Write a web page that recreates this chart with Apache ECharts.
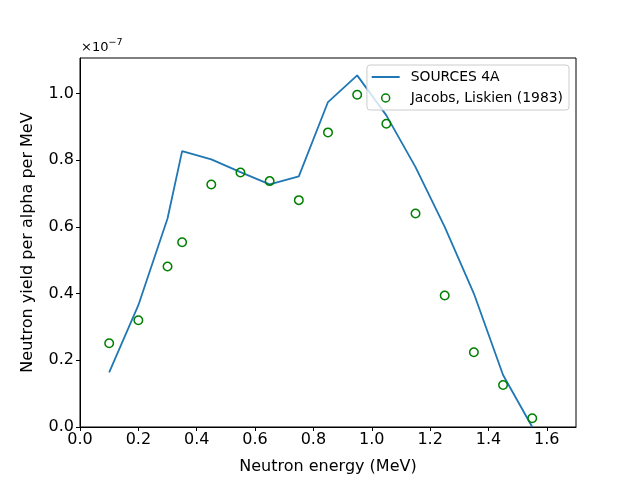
<!DOCTYPE html>
<html>
<head>
<meta charset="utf-8">
<script src="https://cdn.jsdelivr.net/npm/echarts@6/dist/echarts.min.js"></script>
<style>html,body{margin:0;padding:0;background:#fff}#c{width:640px;height:480px}</style>
</head>
<body>
<div id="c"></div>
<script>
// energies (MeV)
const energies = [0.1, 0.2, 0.3, 0.35, 0.45, 0.55, 0.65, 0.75, 0.85, 0.95, 1.05, 1.15, 1.25, 1.35, 1.45, 1.55];
// SOURCES 4A (units of 1e-7 n/alpha/MeV)
const sources4a = [0.164, 0.365, 0.625, 0.827, 0.802, 0.764, 0.727, 0.751, 0.974, 1.054, 0.934, 0.779, 0.600, 0.400, 0.156, 0.0];
// Jacobs, Liskien (1983) (units of 1e-7)
const jacobs = [0.251, 0.320, 0.481, 0.554, 0.727, 0.763, 0.737, 0.680, 0.883, 0.996, 0.909, 0.640, 0.394, 0.224, 0.126, 0.026];
const xTicks = [0.0, 0.2, 0.4, 0.6, 0.8, 1.0, 1.2, 1.4, 1.6];
const yTicks = [0.0, 0.2, 0.4, 0.6, 0.8, 1.0];

const font = 'DejaVu Sans';
const chart = echarts.init(document.getElementById('c'), null, {renderer: 'canvas'});
chart.setOption({
  animation: false,
  textStyle: {fontFamily: font},
  grid: {left: 80, right: 64, top: 58, bottom: 53, show: true, borderColor: '#000', borderWidth: 1, backgroundColor: 'transparent'},
  xAxis: {
    type: 'value', min: 0, max: 1.7, interval: 0.2,
    name: 'Neutron energy (MeV)', nameLocation: 'middle', nameGap: 32,
    nameTextStyle: {fontSize: 16, color: '#000', fontFamily: font},
    axisLine: {show: true, onZero: false, lineStyle: {color: '#000', width: 1}},
    axisTick: {show: true, inside: false, length: 4, lineStyle: {color: '#000'}},
    axisLabel: {fontSize: 16, color: '#000', margin: 5, showMaxLabel: false,
      formatter: v => xTicks.some(t => Math.abs(t - v) < 1e-9) ? v.toFixed(1) : ''},
    splitLine: {show: false}
  },
  yAxis: {
    type: 'value', min: 0, max: 1.106, interval: 0.2,
    name: 'Neutron yield per alpha per MeV', nameLocation: 'middle', nameGap: 44,
    nameTextStyle: {fontSize: 16, color: '#000', fontFamily: font},
    axisLine: {show: true, onZero: false, lineStyle: {color: '#000', width: 1}},
    axisTick: {show: true, inside: false, length: 4, lineStyle: {color: '#000'}},
    axisLabel: {fontSize: 16, color: '#000', margin: 6, showMaxLabel: false,
      formatter: v => yTicks.some(t => Math.abs(t - v) < 1e-9) ? v.toFixed(1) : ''},
    splitLine: {show: false}
  },
  legend: {
    orient: 'vertical', right: 71, top: 65,
    padding: [5, 6, 5, 4], itemGap: 7, itemWidth: 34, itemHeight: 8,
    backgroundColor: 'rgba(255,255,255,0.8)', borderColor: '#cccccc', borderWidth: 1, borderRadius: 3,
    textStyle: {fontSize: 13.9, color: '#000', fontFamily: font},
    data: [
      {name: 'SOURCES 4A', icon: 'path://M0,3H28V5H0Z M0,0L0,0 M34,8L34,8', itemStyle: {color: '#1f77b4'}},
      {name: 'Jacobs, Liskien (1983)', icon: 'path://M10,4A4,4 0 1,1 18,4A4,4 0 1,1 10,4Z M0,0L0,0 M34,8L34,8',
        itemStyle: {color: '#fff', borderColor: '#008000', borderWidth: 1.5}}
    ]
  },
  graphic: [{
    type: 'text', left: 81, top: 38,
    style: {
      text: '{a|×10}{s|−7}',
      rich: {
        a: {fontSize: 13, fontFamily: font, fill: '#000', lineHeight: 16, verticalAlign: 'bottom'},
        s: {fontSize: 9.5, fontFamily: font, fill: '#000', lineHeight: 16, verticalAlign: 'top'}
      }
    }
  }],
  series: [
    {
      name: 'SOURCES 4A', type: 'line', symbol: 'none', showSymbol: false,
      data: energies.map((e, i) => [e, sources4a[i]]),
      lineStyle: {color: '#1f77b4', width: 1.8}, itemStyle: {color: '#1f77b4'}, z: 2
    },
    {
      name: 'Jacobs, Liskien (1983)', type: 'scatter', symbol: 'circle', symbolSize: 8.5,
      data: energies.map((e, i) => [e, jacobs[i]]),
      itemStyle: {color: 'rgba(0,0,0,0)', borderColor: '#008000', borderWidth: 1.5, opacity: 1}, z: 3
    }
  ]
});
</script>
</body>
</html>
